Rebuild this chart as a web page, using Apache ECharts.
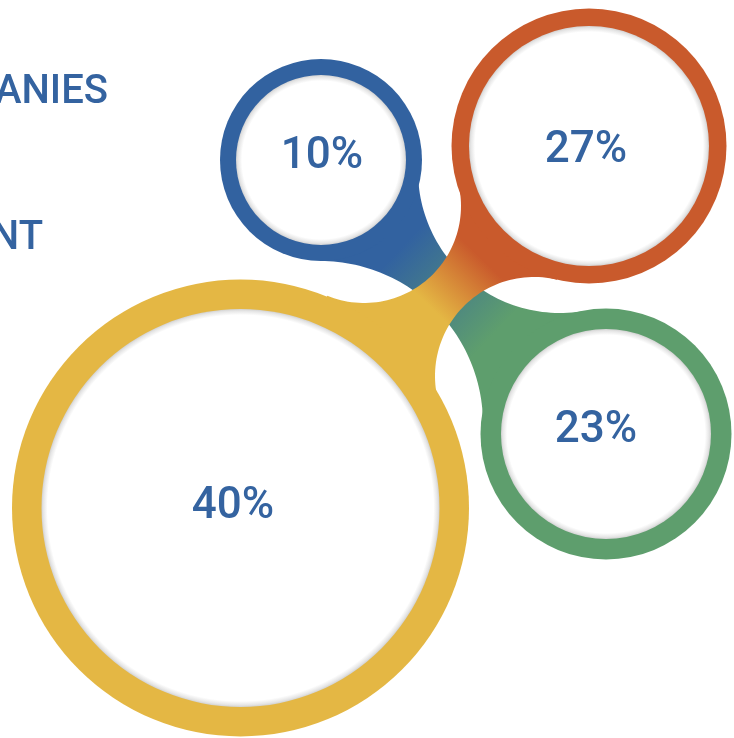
<!DOCTYPE html>
<html><head><meta charset="utf-8">
<script src="https://cdn.jsdelivr.net/npm/echarts@6/dist/echarts.min.js"></script>
<style>html,body{margin:0;padding:0;background:#fff;overflow:hidden}#c{width:734px;height:738px}</style>
</head><body><div id="c"></div>
<script>
// ---- data ----
const categories = ['Segment A', 'Segment B', 'Segment C', 'Segment D'];
const values = [10, 27, 23, 40];
const valueLabels = values.map(v => v + '%');
const sideLabels = ['COMPANIES', 'INVESTMENT'];

// ---- layout (pixel-space units of the hidden axes) ----
const ringCenters = [[321, 160], [589, 146], [606, 434], [240.5, 508]];
const ringOuter = [101, 137.5, 125.5, 228.5];
const ringInner = [85, 120, 105, 199];
const ringColors = ['#3262a0', '#c95a2c', '#5e9e6d', '#e4b744'];
const labelCenters = [[322, 157], [586, 151], [596, 431], [233, 507]];
// connectors: [ringFrom, ringTo, carveCircle1, carveCircle2, gradient stops]
const bands = [
  [0, 2, [560, 171, 142], [320, 424, 163], [[0.3, '#3262a0'], [0.62, '#5e9e6d']]],
  [3, 1, [364, 206, 97], [534, 376, 99], [[0.55, '#e4b744'], [0.69, '#c95a2c']]]
];
const sideLabelPos = [[108, 93], [43, 239]];
const textColor = '#3463a0';

const chart = echarts.init(document.getElementById('c'), null, {renderer: 'canvas'});

function arcPoints(k, a, b, api) {
  const ta = Math.atan2(a[1] - k[1], a[0] - k[0]);
  let tb = Math.atan2(b[1] - k[1], b[0] - k[0]);
  let d = tb - ta;
  while (d > Math.PI) d -= 2 * Math.PI;
  while (d < -Math.PI) d += 2 * Math.PI;
  const pts = [];
  const n = 60;
  for (let s = 0; s <= n; s++) {
    const t = ta + d * s / n;
    pts.push(api.coord([k[0] + k[2] * Math.cos(t), k[1] + k[2] * Math.sin(t)]));
  }
  return pts;
}

function renderBand(params, api) {
  const bi = api.value(0);
  const b = bands[bi];
  const A = ringCenters[b[0]], B = ringCenters[b[1]];
  const pts = [].concat(arcPoints(b[2], A, B, api), [api.coord(B)], arcPoints(b[3], B, A, api), [api.coord(A)]);
  const pa = api.coord(A), pb = api.coord(B);
  const stops = [{offset: 0, color: b[4][0][1]}].concat(
    b[4].map(s => ({offset: s[0], color: s[1]})),
    [{offset: 1, color: b[4][1][1]}]);
  return {
    type: 'polygon',
    shape: {points: pts},
    style: {fill: new echarts.graphic.LinearGradient(pa[0], pa[1], pb[0], pb[1], stops, true)}
  };
}

function renderRing(params, api) {
  const i = api.value(0);
  const c = api.coord(ringCenters[i]);
  const lc = api.coord(labelCenters[i]);
  const R = api.size([ringOuter[i], 0])[0];
  const r = api.size([ringInner[i], 0])[0];
  const edge = 1 - 6 / r;
  return {
    type: 'group',
    children: [
      {type: 'circle', shape: {cx: c[0], cy: c[1], r: R}, style: {fill: ringColors[i]}},
      {type: 'circle', shape: {cx: c[0], cy: c[1], r: r},
        style: {fill: new echarts.graphic.RadialGradient(0.5, 0.5, 0.5, [
          {offset: 0, color: '#ffffff'}, {offset: edge, color: '#ffffff'},
          {offset: 1 - 2 / r, color: '#e6e6e6'}, {offset: 1, color: '#d2d2d2'}])}},
      {type: 'text', x: lc[0], y: lc[1],
        style: {text: valueLabels[i], fill: textColor, font: '500 44px Roboto', align: 'center', verticalAlign: 'middle'}}
    ]
  };
}

chart.setOption({
  animation: false,
  backgroundColor: '#ffffff',
  grid: {left: 0, right: 0, top: 0, bottom: 0},
  xAxis: {type: 'value', min: 0, max: 734, show: false},
  yAxis: {type: 'value', min: 0, max: 738, inverse: true, show: false},
  graphic: sideLabels.map((t, i) => ({
    type: 'text', x: sideLabelPos[i][0], y: sideLabelPos[i][1],
    style: {text: t, fill: textColor, font: '500 40px Roboto', align: 'right', verticalAlign: 'middle'}
  })),
  series: [
    {type: 'custom', name: 'connectors', coordinateSystem: 'cartesian2d', z: 1, silent: true,
      renderItem: renderBand, data: bands.map((b, i) => [i])},
    {type: 'custom', name: 'rings', coordinateSystem: 'cartesian2d', z: 2, silent: true,
      renderItem: renderRing, data: values.map((v, i) => ({name: categories[i], value: [i, v]}))}
  ]
});
</script></body></html>
